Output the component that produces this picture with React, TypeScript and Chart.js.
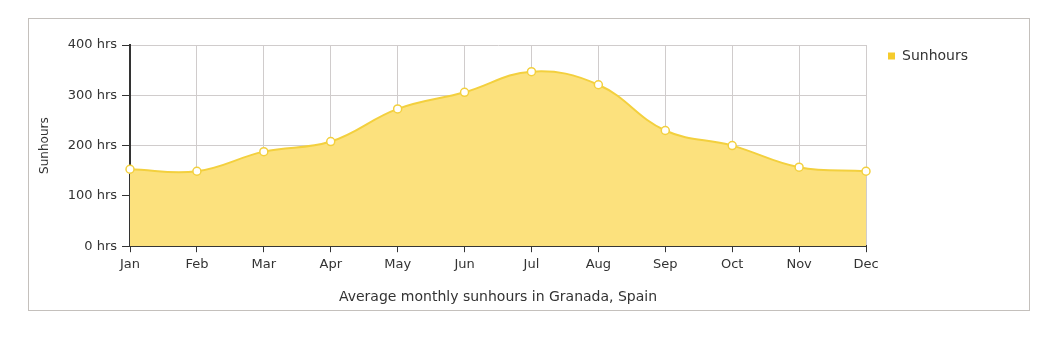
import React, { useEffect, useRef } from "react";
import { Chart, registerables } from "chart.js";

Chart.register(...registerables);

const months = ["Jan", "Feb", "Mar", "Apr", "May", "Jun", "Jul", "Aug", "Sep", "Oct", "Nov", "Dec"];
const sunhours = [153, 149, 188, 208, 273, 306, 347, 321, 230, 200, 157, 149];
const yTicks = [0, 100, 200, 300, 400];
const seriesName = "Sunhours";
const chartTitle = "Average monthly sunhours in Granada, Spain";
const yAxisTitle = "Sunhours";

const FONT = "'DejaVu Sans', Verdana, sans-serif";

const legendShift = {
  id: "legendShift",
  afterLayout(chart: any) {
    if (chart.legend) {
      chart.legend.left += 12;
      chart.legend.right += 12;
      chart.legend.top -= 6;
      chart.legend.bottom -= 6;
    }
  },
};

export default function App() {
  const ref = useRef<HTMLCanvasElement | null>(null);

  useEffect(() => {
    if (!ref.current) return;
    const chart = new Chart(ref.current, {
      type: "line",
      plugins: [legendShift],
      data: {
        labels: months,
        datasets: [
          {
            label: seriesName,
            data: sunhours,
            fill: "origin",
            backgroundColor: "rgba(252, 225, 125, 1)",
            borderColor: "#F3D03E",
            borderWidth: 2,
            tension: 0.4,
            pointRadius: 4,
            pointBackgroundColor: "#ffffff",
            pointBorderColor: "#F3D03E",
            pointBorderWidth: 1.5,
          },
        ],
      },
      options: {
        animation: false,
        responsive: false,
        maintainAspectRatio: false,
        layout: { padding: { top: 26, left: 0, right: 63, bottom: 4 } },
        font: { family: FONT },
        plugins: {
          tooltip: { enabled: false },
          legend: {
            position: "right",
            align: "start",
            labels: {
              usePointStyle: true,
              pointStyle: "rect",
              boxWidth: 7,
              boxHeight: 7,
              color: "#333",
              font: { family: FONT, size: 14 },
              padding: 10,
              generateLabels: (c: any) => [
                {
                  text: seriesName,
                  fillStyle: "#F5CB2C",
                  strokeStyle: "#F5CB2C",
                  lineWidth: 0,
                  pointStyle: "rect",
                  datasetIndex: 0,
                  fontColor: "#333",
                },
              ],
            },
          },
          title: {
            display: true,
            position: "bottom",
            fullSize: false,
            text: chartTitle,
            color: "#333",
            font: { family: FONT, size: 14, weight: "normal" },
            padding: { top: 3, bottom: 0 },
          },
        },
        scales: {
          x: {
            offset: false,
            grid: { color: "#d0cccc", tickColor: "#333", tickLength: 6, drawOnChartArea: true },
            border: { color: "#333", width: 2 },
            ticks: { color: "#333", font: { family: FONT, size: 13 }, padding: 5, maxRotation: 0, autoSkip: false },
            afterFit: (s: any) => {
              s.height = 40;
            },
          },
          y: {
            min: 0,
            max: 400,
            afterBuildTicks: (s: any) => {
              s.ticks = yTicks.map((v) => ({ value: v }));
            },
            grid: { color: "#d0cccc", tickColor: "#333", tickLength: 8 },
            border: { color: "#333", width: 2 },
            ticks: {
              color: "#333",
              font: { family: FONT, size: 13 },
              padding: 5,
              callback: (v: any) => `${v} hrs`,
            },
            title: {
              display: true,
              text: yAxisTitle,
              color: "#333",
              font: { family: FONT, size: 12 },
              padding: { top: 9, bottom: 0 },
            },
            afterFit: (s: any) => {
              s.width = 101;
            },
          },
        },
      },
    });
    return () => chart.destroy();
  }, []);

  return (
    <div style={{ position: "relative", width: 1042, height: 335 }}>
      <div
        style={{
          position: "absolute",
          left: 20,
          top: 10,
          width: 1000,
          height: 291,
          border: "1px solid #c4c0bc",
          background: "#fff",
        }}
      >
        <canvas ref={ref} width={1000} height={291} style={{ display: "block", width: 1000, height: 291 }} />
      </div>
    </div>
  );
}
